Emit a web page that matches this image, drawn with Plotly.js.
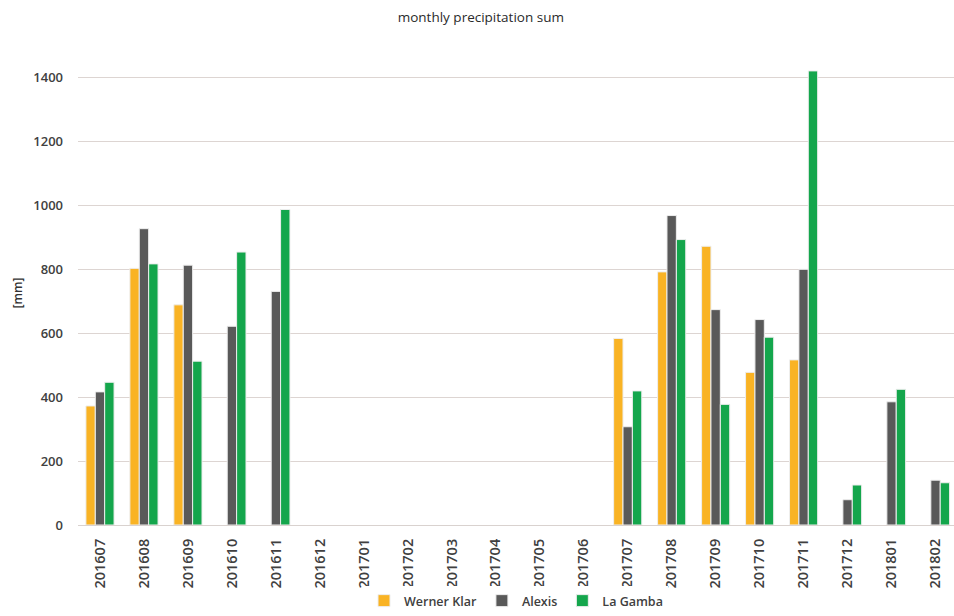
<!DOCTYPE html>
<html>
<head>
<meta charset="utf-8">
<script src="https://cdn.plot.ly/plotly-3.0.1.min.js"></script>
<style>html,body{margin:0;padding:0;background:#fff;}#chart{width:954px;height:616px;}</style>
</head>
<body>
<div id="chart"></div>
<script>
const months = ["201607","201608","201609","201610","201611","201612","201701","201702","201703","201704","201705","201706","201707","201708","201709","201710","201711","201712","201801","201802"];
const wernerKlar = [372, 802, 688, null, null, null, null, null, null, null, null, null, 583, 791, 871, 477, 516, null, null, null];
const alexis =     [416, 926, 812, 621, 730, null, null, null, null, null, null, null, 307, 967, 673, 642, 799, 79, 385, 140];
const laGamba =    [446, 816, 512, 853, 986, null, null, null, null, null, null, null, 419, 892, 377, 587, 1419, 125, 424, 132];
const seriesNames = ["Werner Klar", "Alexis", "La Gamba"];
const seriesColors = ["#F9B324", "#595959", "#14A64C"];

const data = [wernerKlar, alexis, laGamba].map((vals, i) => ({
  type: "bar",
  x: months,
  y: vals,
  name: seriesNames[i],
  marker: {color: seriesColors[i], line: {color: "#eeeeee", width: 1}},
  hoverinfo: "x+y+name"
}));

const font = {family: "Open Sans, Lato, sans-serif", color: "#404040"};
const layout = {
  width: 954, height: 616,
  margin: {l: 78, r: 0, t: 61, b: 89},
  paper_bgcolor: "#ffffff", plot_bgcolor: "#ffffff",
  font: font,
  title: {text: "monthly precipitation sum", x: 0.504, xref: "container", xanchor: "center",
          y: 0.972, yanchor: "middle",
          font: {family: "Open Sans, sans-serif", size: 13.5, color: "#2a2a2a"}},
  barmode: "group",
  bargap: 0.36,
  bargroupgap: 0.0,
  xaxis: {
    type: "category",
    range: [-0.5, 19.42],
    tickangle: -90,
    tickfont: {size: 14.5, color: "#404040", weight: 600},
    showgrid: false,
    showline: true, linecolor: "#d9d2cf", linewidth: 1,
    ticks: "", ticklabelstandoff: 7,
    automargin: false,
    fixedrange: true
  },
  yaxis: {
    range: [0, 1450],
    dtick: 200, tick0: 0,
    tickfont: {size: 13, color: "#404040", weight: 600},
    showgrid: true, gridcolor: "#ddd5d2", gridwidth: 1,
    zeroline: true, zerolinecolor: "#d9d2cf", zerolinewidth: 1,
    showline: false, ticks: "", ticklabelstandoff: 14,
    title: {text: "[mm]", standoff: 8, font: {size: 12, color: "#333333", weight: 600}},
    automargin: false,
    fixedrange: true
  },
  legend: {
    orientation: "h", x: 0.50, xanchor: "center", y: -0.165, yanchor: "middle",
    font: {size: 12.5, color: "#404040", weight: 600},
    itemwidth: 30, tracegroupgap: 0
  },
  showlegend: true
};
Plotly.newPlot("chart", data, layout, {displayModeBar: false, staticPlot: true});
</script>
</body>
</html>
